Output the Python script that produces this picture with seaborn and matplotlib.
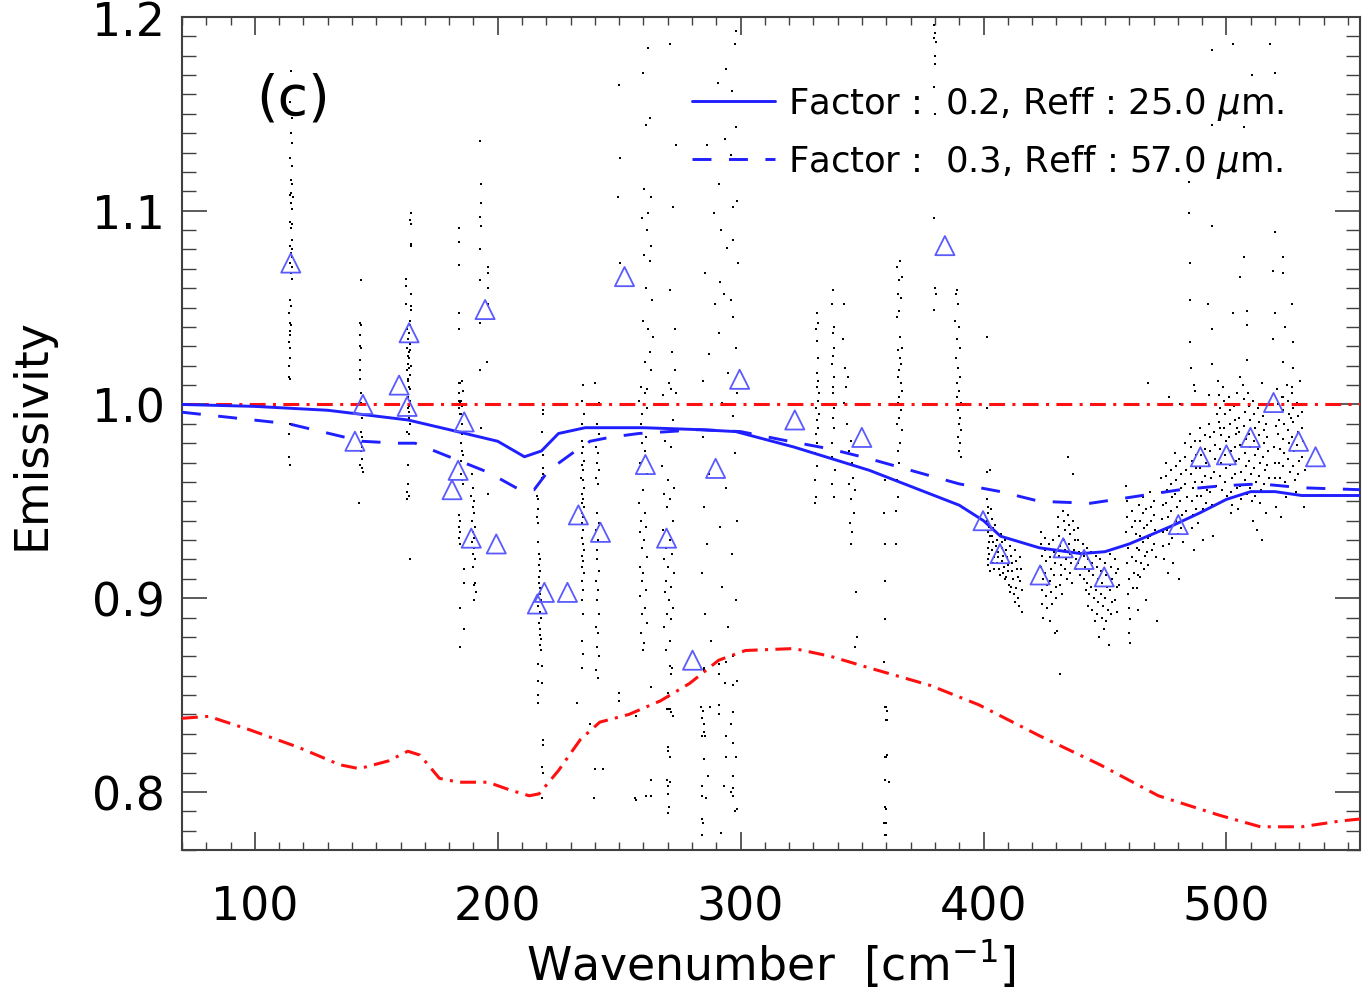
import matplotlib
matplotlib.use("Agg")
import matplotlib.pyplot as plt
from matplotlib.ticker import MultipleLocator
import numpy as np
import pandas as pd
import seaborn as sns

# --- model curves -----------------------------------------------------------
fac02_x = [70, 100, 130, 163, 180, 200, 211, 218, 225, 236, 260, 283, 298, 322,
           353, 390, 400, 407, 423, 440, 450, 460, 477, 489, 500, 510, 520, 531, 555]
fac02_y = [1.000, 0.999, 0.997, 0.992, 0.987, 0.981, 0.973, 0.976, 0.985, 0.988, 0.988,
           0.987, 0.986, 0.978, 0.966, 0.948, 0.940, 0.932, 0.926, 0.923, 0.924, 0.928,
           0.937, 0.944, 0.951, 0.955, 0.955, 0.953, 0.953]

fac03_x = [70, 114, 144, 159, 166, 176, 184, 196, 209, 215, 221, 232, 238, 246, 258,
           283, 300, 320, 337, 353, 370, 390, 407, 423, 444, 460, 481, 498, 514, 531, 555]
fac03_y = [0.996, 0.990, 0.981, 0.980, 0.980, 0.975, 0.971, 0.965, 0.956, 0.956, 0.966,
           0.976, 0.981, 0.983, 0.985, 0.987, 0.986, 0.981, 0.977, 0.972, 0.966, 0.959,
           0.955, 0.950, 0.949, 0.952, 0.956, 0.958, 0.959, 0.957, 0.956]

red_x = [70, 81, 98, 118, 135, 143, 155, 163, 168, 176, 184, 196, 205, 213, 217, 225,
         234, 242, 254, 267, 279, 291, 302, 322, 337, 353, 378, 398, 423, 448, 472,
         497, 514, 531, 547, 555]
red_y = [0.838, 0.839, 0.832, 0.823, 0.814, 0.812, 0.816, 0.821, 0.819, 0.807, 0.805,
         0.805, 0.801, 0.798, 0.799, 0.811, 0.827, 0.836, 0.840, 0.847, 0.856, 0.868,
         0.873, 0.874, 0.870, 0.864, 0.855, 0.845, 0.829, 0.814, 0.798, 0.788, 0.782,
         0.782, 0.785, 0.786]

# --- retrieved emissivity (triangles) ---------------------------------------
tri_x = [114.8, 144.5, 159.4, 163.5, 162.7, 141.2, 186.2, 183.7, 181.2, 189.1, 199.4,
         194.8, 216.3, 219.2, 228.7, 233.2, 242.3, 252.2, 260.8, 269.5, 280.2, 289.7,
         299.6, 322.3, 349.9, 384.1, 399.8, 406.8, 423.3, 432.8, 441.4, 449.7, 480.2,
         489.3, 500.0, 509.9, 519.4, 529.7, 536.7]
tri_y = [1.073, 1.000, 1.010, 1.037, 0.999, 0.981, 0.991, 0.966, 0.956, 0.931, 0.928,
         1.049, 0.897, 0.903, 0.903, 0.943, 0.934, 1.066, 0.969, 0.931, 0.868, 0.967,
         1.013, 0.992, 0.983, 1.082, 0.940, 0.923, 0.912, 0.926, 0.920, 0.911, 0.938,
         0.973, 0.974, 0.983, 1.001, 0.981, 0.973]

# --- individual spectral points (dots) -----------------------------------------
strip_115 = [(115.0, 1.172), (114.6, 1.156), (115.2, 1.148), (114.8, 1.140), (115.4, 1.135),
             (114.5, 1.127), (115.1, 1.123), (114.7, 1.116), (115.3, 1.114), (114.9, 1.109),
             (114.4, 1.108), (115.6, 1.107), (115.0, 1.104), (115.2, 1.101), (114.6, 1.094),
             (115.4, 1.093), (114.9, 1.091), (115.1, 1.085), (114.5, 1.082), (115.5, 1.080),
             (114.8, 1.078), (115.2, 1.076), (114.6, 1.073), (115.4, 1.071), (114.9, 1.068),
             (115.1, 1.065), (114.3, 1.054), (114.7, 1.051), (114.2, 1.047), (114.4, 1.042),
             (114.8, 1.041), (114.3, 1.038), (114.6, 1.036), (114.1, 1.032), (114.5, 1.029),
             (114.3, 1.024), (114.2, 1.020), (114.0, 1.014), (114.4, 1.013), (114.3, 0.998),
             (114.5, 0.990), (113.9, 0.985), (114.2, 0.973), (114.4, 0.969)]

strip_143 = [(143.8, 1.064), (143.2, 1.042), (143.6, 1.041), (143.1, 1.036), (143.4, 1.030),
             (143.7, 1.029), (143.5, 1.023), (143.1, 1.018), (143.3, 1.013), (143.6, 1.006),
             (143.9, 1.001), (144.2, 0.993), (143.9, 0.986), (144.3, 0.983), (143.6, 0.980),
             (144.1, 0.978), (143.8, 0.976), (144.0, 0.972), (143.5, 0.969), (144.2, 0.967),
             (144.4, 0.965), (142.9, 0.949)]

strip_163 = [(164.2, 1.099), (164.0, 1.095), (164.3, 1.093), (164.1, 1.083), (164.4, 1.082),
             (162.4, 1.065), (162.3, 1.061), (164.1, 1.057), (162.4, 1.052), (164.3, 1.051),
             (164.4, 1.049), (163.9, 1.043), (164.0, 1.041), (162.8, 1.039), (163.5, 1.037),
             (163.1, 1.034), (163.7, 1.031), (162.6, 1.029), (163.9, 1.028), (163.3, 1.027),
             (162.9, 1.025), (163.6, 1.024), (163.0, 1.021), (164.2, 1.020), (163.4, 1.019),
             (162.7, 1.018), (163.8, 1.015), (163.2, 1.013), (162.9, 1.012), (163.5, 1.009),
             (164.0, 1.008), (163.1, 1.004), (163.7, 1.002), (163.4, 0.999), (162.9, 0.998),
             (163.6, 0.996), (163.3, 0.993), (163.8, 0.990), (162.6, 0.986), (163.5, 0.985),
             (162.8, 0.980), (163.2, 0.969), (163.1, 0.959), (162.7, 0.955), (163.4, 0.953),
             (162.5, 0.951), (163.8, 0.920)]

strip_185 = [(184.1, 1.091), (184.2, 1.084), (184.0, 1.072), (184.2, 1.047), (184.0, 1.039),
             (183.9, 1.011), (184.3, 1.011), (184.1, 1.006), (184.0, 1.002), (184.4, 1.001),
             (184.2, 0.998), (184.3, 0.995), (185.2, 1.012), (185.5, 1.007), (185.0, 1.002),
             (185.3, 0.999), (184.8, 0.995), (185.1, 0.990), (185.4, 0.985), (184.9, 0.980),
             (185.2, 0.976), (185.6, 0.974), (185.0, 0.971), (184.7, 0.964), (185.3, 0.961),
             (185.5, 0.959), (184.2, 0.943), (184.5, 0.940), (183.9, 0.937), (184.3, 0.934),
             (184.0, 0.931), (184.6, 0.928), (186.1, 0.915), (186.3, 0.908), (184.5, 0.895),
             (186.2, 0.884), (184.4, 0.875)]

strip_190 = [(189.5, 0.964), (190.0, 0.957), (189.2, 0.953), (190.4, 0.950), (189.8, 0.947),
             (190.2, 0.944), (189.6, 0.940), (190.5, 0.937), (189.9, 0.934), (190.1, 0.931),
             (189.4, 0.929), (190.3, 0.926), (189.7, 0.923), (190.6, 0.920), (190.0, 0.916),
             (190.8, 0.908), (190.2, 0.907), (190.9, 0.903), (190.4, 0.899)]

strip_195 = [(192.5, 1.136), (193.0, 1.114), (193.2, 1.104), (192.8, 1.097), (193.1, 1.092),
             (192.9, 1.080), (192.6, 1.064), (192.7, 1.042), (195.8, 1.071), (196.0, 1.068),
             (195.9, 1.060), (195.8, 1.052), (195.7, 1.022), (192.8, 1.018), (193.0, 0.988),
             (196.2, 0.954)]

strip_218 = [(218.5, 0.997), (218.7, 0.995), (218.4, 0.986), (218.6, 0.974), (218.8, 0.967),
             (218.5, 0.964), (218.3, 0.962), (216.2, 0.953), (216.4, 0.951), (216.5, 0.946),
             (216.3, 0.942), (216.4, 0.939), (216.5, 0.929), (217.0, 0.923), (217.4, 0.920),
             (216.8, 0.917), (217.6, 0.914), (217.1, 0.911), (216.9, 0.908), (217.5, 0.905),
             (217.2, 0.902), (217.8, 0.899), (216.7, 0.896), (217.3, 0.893), (217.9, 0.890),
             (217.0, 0.887), (217.6, 0.884), (217.3, 0.881), (217.8, 0.879), (217.4, 0.876),
             (217.9, 0.873), (216.6, 0.866), (218.4, 0.865), (216.4, 0.857), (218.3, 0.856),
             (216.5, 0.850), (216.6, 0.846), (218.5, 0.827), (218.5, 0.824), (218.4, 0.813),
             (218.5, 0.810), (218.4, 0.797)]

strip_235_x = [235.1, 234.6, 235.4, 234.8, 235.7, 234.5, 235.2, 234.9, 235.5, 234.7, 235.3,
               234.4, 235.0, 235.6, 234.8, 235.2, 234.6, 235.4, 234.9, 235.1, 234.5, 235.3,
               234.7, 235.0, 235.5, 234.6, 235.2, 234.9, 235.4, 234.7, 235.1, 234.8, 235.3,
               234.6, 235.0, 234.9]
strip_235_y = [1.010, 1.002, 0.995, 0.990, 0.988, 0.981, 0.978, 0.975, 0.971, 0.969, 0.966,
               0.962, 0.961, 0.957, 0.954, 0.951, 0.949, 0.947, 0.944, 0.942, 0.939, 0.935,
               0.931, 0.928, 0.925, 0.922, 0.919, 0.916, 0.913, 0.909, 0.904, 0.899, 0.892,
               0.878, 0.871, 0.864]

strip_241_x = [240.2, 241.5, 240.8, 241.9, 240.5, 241.2, 240.9, 241.6, 240.4, 241.1, 240.7,
               241.8, 240.3, 241.4, 240.9, 241.0, 241.7, 240.6, 241.3, 240.8, 241.5, 240.4,
               241.2, 240.9, 241.6, 240.5, 241.1, 232.5, 237.8, 240.0, 239.5]
strip_241_y = [1.011, 1.001, 0.990, 0.985, 0.978, 0.975, 0.970, 0.966, 0.962, 0.959, 0.944,
               0.939, 0.935, 0.930, 0.925, 0.920, 0.914, 0.909, 0.904, 0.899, 0.892, 0.885,
               0.882, 0.875, 0.870, 0.863, 0.859, 0.846, 0.835, 0.812, 0.797]

strip_259_x = [259.0, 260.5, 258.2, 261.3, 259.6, 258.8, 261.0, 259.3, 260.8, 258.5, 261.5,
               259.9, 258.3, 260.6, 259.1, 261.2, 258.7, 260.2, 259.4, 261.4, 258.6, 260.0,
               259.2, 261.1, 258.4, 260.7, 259.5, 261.3, 258.9, 260.4, 259.7, 256.5, 261.0]
strip_259_y = [1.009, 1.006, 1.002, 0.998, 0.995, 0.990, 0.983, 0.980, 0.976, 0.970, 0.964,
               0.956, 0.949, 0.944, 0.940, 0.937, 0.934, 0.930, 0.926, 0.921, 0.916, 0.913,
               0.909, 0.904, 0.901, 0.895, 0.892, 0.887, 0.882, 0.877, 0.873, 0.797, 0.798]

upper_262_x = [262.0, 259.8, 262.5, 261.0, 260.3, 263.2, 262.0, 259.5, 261.5, 263.0, 260.2,
               262.6, 261.2, 263.5, 260.0, 261.8, 264.0, 262.8, 260.6, 263.3, 261.4,
               249.8, 250.3, 249.6, 250.5]
upper_262_y = [1.184, 1.171, 1.148, 1.144, 1.111, 1.107, 1.099, 1.096, 1.090, 1.082, 1.077,
               1.074, 1.060, 1.054, 1.043, 1.039, 1.035, 1.027, 1.022, 1.018, 1.008,
               1.165, 1.127, 1.107, 1.073]

strip_270_x = [270.5, 268.2, 272.0, 269.0, 271.3, 267.8, 270.0, 272.4, 268.6, 271.0, 269.5,
               272.2, 268.0, 270.8, 269.3, 271.8, 268.4, 270.3, 272.6, 269.1, 271.5, 268.7,
               270.6, 272.1, 269.7, 271.2, 268.3, 270.9, 269.4, 271.6, 270.2, 269.8, 271.4,
               270.1, 269.6, 270.4]
strip_270_y = [1.011, 1.005, 0.992, 0.981, 0.978, 0.968, 0.961, 0.957, 0.954, 0.951, 0.947,
               0.940, 0.935, 0.930, 0.926, 0.923, 0.920, 0.916, 0.913, 0.909, 0.906, 0.903,
               0.899, 0.895, 0.892, 0.889, 0.885, 0.878, 0.873, 0.864, 0.851, 0.843, 0.841,
               0.823, 0.806, 0.792]

upper_272_x = [271.0, 273.5, 272.2, 270.8, 273.0, 271.6, 272.8, 271.2, 273.6]
upper_272_y = [1.186, 1.134, 1.102, 1.059, 1.039, 1.027, 1.018, 1.008, 1.006]

strip_292_x = [298.3, 297.5, 294.0, 290.8, 296.5, 297.9, 293.5, 286.0, 296.0, 298.8, 291.0,
               298.5, 296.8, 289.0, 292.0, 297.0, 294.5, 298.8, 285.5, 291.5, 293.0, 296.0,
               289.5, 297.0, 291.0, 298.0, 287.0, 295.0, 284.5, 298.6, 292.5, 297.0,
               284.5, 297.5, 287.0, 294.0, 285.0, 298.5, 291.5, 286.0, 296.5, 284.0, 292.5,
               298.0, 285.5, 295.0, 288.0, 297.0, 284.8, 293.5, 287.5, 296.0, 285.2, 298.2,
               286.5, 293.0, 285.8, 297.5, 284.6, 292.0]
strip_292_y = [1.193, 1.186, 1.173, 1.166, 1.162, 1.143, 1.137, 1.134, 1.129, 1.126, 1.114,
               1.105, 1.102, 1.099, 1.090, 1.085, 1.081, 1.073, 1.068, 1.063, 1.057, 1.054,
               1.052, 1.045, 1.037, 1.029, 1.026, 1.016, 1.012, 1.006, 1.001, 0.994,
               0.983, 0.975, 0.964, 0.957, 0.947, 0.940, 0.937, 0.928, 0.923, 0.913, 0.906,
               0.899, 0.892, 0.885, 0.878, 0.870, 0.863, 0.856, 0.844, 0.835, 0.829, 0.818,
               0.808, 0.803, 0.797, 0.790, 0.784, 0.779]

low_sparse = [(250.0, 0.851), (250.0, 0.847), (257.0, 0.839), (263.0, 0.854), (263.3, 0.806),
              (263.3, 0.798), (257.0, 0.796), (270.0, 0.849), (270.0, 0.843), (271.0, 0.843),
              (272.0, 0.839), (270.0, 0.821), (271.0, 0.818), (271.0, 0.805), (270.0, 0.803),
              (270.0, 0.799), (270.0, 0.789), (243.3, 0.812), (283.5, 0.844), (284.4, 0.842),
              (284.0, 0.838), (285.0, 0.835), (284.0, 0.829), (285.0, 0.831), (285.0, 0.817),
              (284.0, 0.803), (284.0, 0.798), (284.0, 0.786), (284.0, 0.778), (291.3, 0.845),
              (291.3, 0.840), (294.0, 0.829), (294.0, 0.818), (296.0, 0.800), (296.7, 0.841),
              (296.7, 0.825), (296.7, 0.808), (296.7, 0.802), (296.7, 0.798), (298.4, 0.791),
              (296.7, 0.855), (298.6, 0.857), (291.3, 0.861), (285.0, 0.864), (291.0, 0.866),
              (294.0, 0.867), (271.5, 0.861), (271.0, 0.865), (359.8, 0.844), (360.4, 0.842),
              (360.4, 0.837), (359.8, 0.818), (360.4, 0.819), (361.0, 0.805), (359.8, 0.791),
              (359.8, 0.784), (359.8, 0.778)]

strip_332_y = [1.047, 1.042, 1.039, 1.033, 1.024, 1.016, 1.012, 1.009, 1.006, 1.002, 0.998,
               0.995, 0.992, 0.988, 0.985, 0.980, 0.975, 0.968, 0.961, 0.952, 0.949]
strip_332_x = [331.5, 331.8, 331.2, 331.6, 332.0, 331.3, 331.9, 331.4, 332.2, 331.7, 331.1,
               332.1, 331.5, 331.9, 331.2, 331.6, 330.8, 331.4, 330.5, 330.9, 330.6]
strip_338_y = [1.059, 1.052, 1.040, 1.037, 1.029, 1.025, 1.021, 1.014, 1.009, 1.006, 0.998,
               0.993, 0.988, 0.980, 0.973, 0.966, 0.959, 0.952]
strip_338_x = [338.0, 337.8, 338.3, 337.9, 338.4, 338.1, 337.7, 338.5, 338.2, 337.9, 338.6,
               338.0, 338.3, 337.5, 337.8, 338.8, 337.6, 338.4]
strip_345_y = [1.052, 1.034, 1.019, 1.014, 1.009, 1.001, 0.990, 0.981, 0.976, 0.970, 0.962,
               0.959, 0.956, 0.951, 0.944, 0.939, 0.934, 0.928, 0.903, 0.880, 0.875]
strip_345_x = [342.5, 342.3, 342.8, 344.2, 343.5, 342.7, 344.0, 345.5, 344.8, 345.9, 346.3,
               344.6, 347.0, 345.3, 346.6, 344.9, 346.0, 345.6, 347.5, 348.0, 347.2]

strip_359 = [(359.4, 0.961), (359.2, 0.944), (359.5, 0.928), (359.3, 0.909), (359.6, 0.889),
             (359.2, 0.867), (359.5, 0.844), (359.8, 0.837), (359.3, 0.818), (359.6, 0.806),
             (359.4, 0.792), (359.2, 0.784), (359.5, 0.778)]

strip_365_y = [1.074, 1.071, 1.066, 1.064, 1.057, 1.055, 1.048, 1.045, 1.035, 1.029, 1.028,
               1.024, 1.021, 1.018, 1.014, 1.011, 1.007, 1.004, 1.001, 0.997, 0.993, 0.990,
               0.987, 0.980, 0.976, 0.970, 0.961, 0.952, 0.945, 0.928]
strip_365_x = [365.5, 364.2, 366.3, 365.0, 364.6, 366.0, 365.3, 364.4, 365.8, 366.4, 364.8,
               365.6, 366.2, 365.1, 364.7, 365.9, 366.5, 365.4, 364.9, 366.1, 365.2, 364.5,
               366.3, 365.7, 364.6, 365.0, 364.3, 364.9, 364.1, 363.8]

strip_380 = [(379.5, 1.196), (380.2, 1.192), (379.8, 1.189), (380.4, 1.187), (379.9, 1.180),
             (380.1, 1.176), (379.7, 1.164), (380.0, 1.150), (379.6, 1.096), (380.0, 1.060),
             (380.3, 1.057), (379.8, 1.049)]

strip_389_y = [1.059, 1.057, 1.052, 1.043, 1.040, 1.034, 1.029, 1.024, 1.019, 1.014, 1.011,
               1.007, 1.004, 1.001, 0.997, 0.993, 0.990, 0.987, 0.983, 0.980, 0.976, 0.973]
strip_389_x = [389.2, 388.8, 389.5, 388.4, 389.9, 389.0, 390.3, 388.6, 389.7, 390.5, 389.1,
               390.0, 388.9, 390.6, 389.4, 390.2, 389.8, 390.9, 389.3, 390.4, 390.1, 390.7]

band_398_416 = [(401.6, 0.951), (401.8, 0.947), (402.0, 0.944), (401.5, 0.940), (402.3, 0.937),
                (401.9, 0.934), (402.5, 0.932), (402.1, 0.929), (401.7, 0.926), (402.4, 0.923),
                (402.0, 0.920), (401.8, 0.917), (402.6, 0.914), (403.2, 0.946), (403.5, 0.941),
                (403.8, 0.936), (403.4, 0.932), (404.0, 0.929), (403.6, 0.925), (404.2, 0.921),
                (403.9, 0.918), (404.5, 0.915), (404.8, 0.938), (405.1, 0.934), (405.5, 0.930),
                (405.2, 0.927), (405.8, 0.924), (406.1, 0.921), (405.6, 0.918), (406.4, 0.915),
                (406.9, 0.912), (407.2, 0.933), (407.5, 0.929), (407.8, 0.926), (408.1, 0.922),
                (407.6, 0.919), (408.4, 0.916), (408.0, 0.913), (408.7, 0.910), (409.0, 0.930),
                (409.3, 0.925), (409.6, 0.921), (409.9, 0.917), (410.2, 0.914), (409.4, 0.911),
                (410.5, 0.907), (411.0, 0.927), (411.3, 0.922), (411.6, 0.918), (411.9, 0.914),
                (412.2, 0.910), (411.5, 0.906), (412.5, 0.902), (413.1, 0.925), (413.4, 0.919),
                (413.7, 0.915), (414.0, 0.911), (413.3, 0.905), (414.2, 0.900), (414.6, 0.896),
                (415.2, 0.921), (415.5, 0.915), (415.0, 0.909), (415.8, 0.904), (416.0, 0.893),
                (412.8, 0.898), (410.8, 0.903), (401.4, 1.035), (401.4, 0.998), (402.7, 0.966),
                (401.4, 0.965)]

band_423_440 = [(423.5, 0.934), (423.8, 0.928), (424.0, 0.922), (423.6, 0.916), (424.3, 0.910),
                (424.1, 0.904), (423.9, 0.897), (424.5, 0.890), (425.2, 0.931), (425.5, 0.925),
                (425.8, 0.919), (425.4, 0.913), (426.0, 0.907), (425.7, 0.901), (426.3, 0.895),
                (427.0, 0.928), (427.3, 0.921), (427.6, 0.915), (427.2, 0.909), (427.9, 0.903),
                (428.2, 0.897), (427.5, 0.888), (428.8, 0.930), (429.1, 0.924), (429.4, 0.918),
                (429.0, 0.912), (429.7, 0.906), (430.0, 0.900), (430.5, 0.942), (430.8, 0.937),
                (431.1, 0.932), (431.4, 0.927), (431.0, 0.922), (431.7, 0.917), (432.0, 0.912),
                (431.5, 0.907), (432.3, 0.902), (432.8, 0.945), (433.1, 0.940), (433.4, 0.935),
                (433.0, 0.930), (433.7, 0.925), (434.0, 0.920), (433.5, 0.915), (434.3, 0.910),
                (434.9, 0.943), (435.2, 0.938), (435.5, 0.933), (435.1, 0.928), (435.8, 0.923),
                (436.1, 0.918), (435.6, 0.913), (436.4, 0.908), (437.0, 0.940), (437.3, 0.935),
                (437.6, 0.930), (437.2, 0.925), (437.9, 0.920), (438.2, 0.915), (438.8, 0.936),
                (439.1, 0.930), (439.4, 0.924), (439.0, 0.918), (439.7, 0.912), (434.8, 0.973),
                (437.0, 0.964), (429.5, 0.882), (430.1, 0.883), (431.5, 0.861)]

band_441_456 = [(441.0, 0.928), (441.4, 0.922), (441.8, 0.916), (441.2, 0.910), (442.0, 0.904),
                (442.5, 0.926), (442.9, 0.920), (443.3, 0.914), (442.7, 0.908), (443.6, 0.902),
                (443.1, 0.896), (444.2, 0.924), (444.6, 0.918), (445.0, 0.912), (444.4, 0.906),
                (445.3, 0.900), (444.8, 0.894), (445.7, 0.888), (446.2, 0.922), (446.6, 0.916),
                (447.0, 0.910), (446.4, 0.904), (447.3, 0.898), (446.8, 0.892), (448.0, 0.920),
                (448.4, 0.914), (448.8, 0.908), (448.2, 0.902), (449.1, 0.896), (448.6, 0.890),
                (449.5, 0.884), (450.0, 0.918), (450.4, 0.912), (450.8, 0.906), (450.2, 0.900),
                (451.1, 0.894), (450.6, 0.888), (452.0, 0.923), (452.4, 0.916), (452.8, 0.910),
                (452.2, 0.904), (453.1, 0.898), (452.6, 0.892), (454.0, 0.920), (454.4, 0.913),
                (454.8, 0.906), (454.2, 0.899), (455.1, 0.893), (455.5, 0.915), (455.9, 0.907),
                (447.5, 0.880), (451.5, 0.876)]

band_458_472 = [(458.6, 0.958), (458.9, 0.950), (459.2, 0.942), (458.8, 0.934), (459.5, 0.926),
                (459.1, 0.918), (459.7, 0.910), (459.4, 0.902), (460.0, 0.895), (460.3, 0.889),
                (460.0, 0.882), (460.4, 0.877), (461.0, 0.945), (461.3, 0.937), (461.6, 0.929),
                (461.2, 0.921), (461.9, 0.913), (461.5, 0.905), (462.5, 0.940), (462.8, 0.933),
                (463.1, 0.926), (462.7, 0.919), (463.4, 0.912), (463.0, 0.905), (464.0, 0.948),
                (464.3, 0.940), (464.6, 0.932), (464.2, 0.925), (464.9, 0.918), (464.5, 0.911),
                (465.5, 0.952), (465.8, 0.944), (466.1, 0.936), (465.7, 0.929), (466.4, 0.922),
                (466.0, 0.915), (467.0, 0.946), (467.3, 0.938), (467.6, 0.931), (467.2, 0.924),
                (467.9, 0.917), (468.5, 0.955), (468.8, 0.947), (469.1, 0.940), (468.7, 0.932),
                (469.4, 0.925), (470.0, 0.950), (470.3, 0.943), (470.6, 0.935), (470.2, 0.928),
                (470.9, 0.921), (471.3, 0.888), (466.8, 0.899), (463.8, 0.894), (467.8, 1.011)]

band_473_484 = [(473.2, 0.962), (473.5, 0.955), (473.8, 0.948), (473.4, 0.941), (474.1, 0.934),
                (473.7, 0.927), (474.4, 0.920), (475.0, 0.970), (475.3, 0.963), (475.6, 0.956),
                (475.2, 0.949), (475.9, 0.942), (475.5, 0.935), (476.2, 0.928), (477.0, 0.966),
                (477.3, 0.959), (477.6, 0.952), (477.2, 0.945), (477.9, 0.938), (477.5, 0.931),
                (478.8, 0.975), (479.1, 0.968), (479.4, 0.961), (479.0, 0.954), (479.7, 0.947),
                (479.3, 0.940), (480.0, 0.933), (480.8, 0.971), (481.1, 0.964), (481.4, 0.957),
                (481.0, 0.950), (481.7, 0.943), (481.3, 0.936), (482.0, 0.929), (482.8, 0.980),
                (483.1, 0.973), (483.4, 0.966), (483.0, 0.959), (483.7, 0.952), (483.3, 0.945),
                (476.0, 0.913), (478.2, 0.918), (480.3, 0.910), (476.5, 1.004), (481.0, 1.000)]

band_485_496 = [(485.2, 0.985), (485.5, 0.978), (485.8, 0.971), (485.4, 0.964), (486.1, 0.957),
                (485.7, 0.950), (486.4, 0.943), (486.0, 0.936), (487.0, 0.981), (487.3, 0.974),
                (487.6, 0.967), (487.2, 0.960), (487.9, 0.953), (487.5, 0.946), (488.2, 0.939),
                (489.0, 0.988), (489.3, 0.981), (489.6, 0.974), (489.2, 0.967), (489.9, 0.960),
                (489.5, 0.953), (490.2, 0.946), (491.0, 0.984), (491.3, 0.977), (491.6, 0.970),
                (491.2, 0.963), (491.9, 0.956), (491.5, 0.949), (492.8, 0.990), (493.1, 0.983),
                (493.4, 0.976), (493.0, 0.969), (493.7, 0.962), (493.3, 0.955), (494.0, 0.948),
                (494.8, 0.986), (495.1, 0.979), (495.4, 0.972), (495.0, 0.965), (495.7, 0.958),
                (486.6, 0.925), (490.5, 0.930), (494.5, 0.932), (485.1, 1.054), (492.6, 1.052),
                (494.2, 1.039), (485.1, 1.032), (485.3, 1.019), (486.8, 1.010), (487.0, 1.007),
                (492.8, 1.005)]

band_upper = [(494.2, 1.183), (502.9, 1.186), (518.1, 1.186), (510.7, 1.170), (520.2, 1.171),
              (494.2, 1.144), (507.4, 1.143), (484.7, 1.115), (484.7, 1.099), (494.2, 1.092),
              (520.2, 1.089), (484.9, 1.073), (507.4, 1.076), (523.5, 1.076), (505.8, 1.066),
              (519.0, 1.069), (523.5, 1.068), (502.9, 1.047), (508.6, 1.048), (520.2, 1.047),
              (527.2, 1.052), (508.6, 1.041), (524.3, 1.040), (519.0, 1.034), (527.6, 1.032),
              (494.2, 1.021), (505.4, 1.014), (508.6, 1.023), (523.5, 1.022), (527.6, 1.019),
              (514.8, 1.011), (530.5, 1.012), (527.2, 1.009), (500.4, 1.000), (504.5, 1.006),
              (523.5, 1.004), (531.8, 1.000), (496.3, 0.995), (497.5, 0.988), (504.5, 0.988),
              (520.6, 0.989), (526.4, 0.993)]

band_496_506 = [(496.6, 1.012), (497.0, 1.005), (497.3, 0.998), (496.9, 0.991), (497.6, 0.984),
                (497.2, 0.977), (497.9, 0.970), (497.5, 0.963), (498.2, 0.956), (498.8, 1.009),
                (499.1, 1.002), (499.4, 0.995), (499.0, 0.988), (499.7, 0.981), (499.3, 0.974),
                (500.0, 0.967), (499.6, 0.960), (500.3, 0.953), (501.0, 1.004), (501.3, 0.997),
                (501.6, 0.990), (501.2, 0.983), (501.9, 0.976), (501.5, 0.969), (502.2, 0.962),
                (501.8, 0.955), (502.5, 0.948), (503.2, 0.999), (503.5, 0.992), (503.8, 0.985),
                (503.4, 0.978), (504.1, 0.971), (503.7, 0.964), (504.4, 0.957), (505.0, 0.993),
                (505.3, 0.986), (505.6, 0.979), (505.2, 0.972), (505.9, 0.965), (505.5, 0.958),
                (506.0, 0.951), (502.0, 0.944), (504.8, 0.946)]

band_507_518 = [(507.0, 1.010), (507.3, 1.003), (507.6, 0.996), (507.2, 0.989), (507.9, 0.982),
                (507.5, 0.975), (508.2, 0.968), (507.8, 0.961), (508.5, 0.954), (509.0, 1.006),
                (509.3, 0.999), (509.6, 0.992), (509.2, 0.985), (509.9, 0.978), (509.5, 0.971),
                (510.2, 0.964), (509.8, 0.957), (510.5, 0.950), (511.0, 1.002), (511.3, 0.995),
                (511.6, 0.988), (511.2, 0.981), (511.9, 0.974), (511.5, 0.967), (512.2, 0.960),
                (511.8, 0.953), (513.0, 0.998), (513.3, 0.991), (513.6, 0.984), (513.2, 0.977),
                (513.9, 0.970), (513.5, 0.963), (514.2, 0.956), (513.8, 0.949), (515.0, 0.994),
                (515.3, 0.987), (515.6, 0.980), (515.2, 0.973), (515.9, 0.966), (515.5, 0.959),
                (516.5, 0.990), (516.8, 0.983), (517.1, 0.976), (516.7, 0.969), (517.4, 0.962),
                (510.8, 0.940), (512.6, 0.935), (514.6, 0.930), (516.2, 0.944)]

band_519_533 = [(519.5, 0.978), (519.8, 0.970), (520.1, 0.962), (519.7, 0.955), (520.4, 0.947),
                (521.0, 1.008), (521.3, 1.000), (521.6, 0.992), (521.2, 0.985), (521.9, 0.977),
                (521.5, 0.970), (522.2, 0.962), (523.0, 1.004), (523.3, 0.997), (523.6, 0.990),
                (523.2, 0.982), (523.9, 0.975), (523.5, 0.968), (524.2, 0.960), (525.0, 1.010),
                (525.3, 1.002), (525.6, 0.995), (525.2, 0.987), (525.9, 0.980), (525.5, 0.972),
                (526.2, 0.965), (527.0, 1.006), (527.3, 0.998), (527.6, 0.991), (527.2, 0.983),
                (527.9, 0.976), (527.5, 0.968), (528.2, 0.961), (529.0, 1.001), (529.3, 0.994),
                (529.6, 0.986), (529.2, 0.979), (529.9, 0.971), (529.5, 0.964), (531.0, 0.996),
                (531.3, 0.988), (531.6, 0.981), (531.2, 0.973), (532.5, 0.966), (524.6, 0.952),
                (528.7, 0.955), (532.0, 0.947), (522.5, 0.942)]

paired = [
    (strip_235_x, strip_235_y), (strip_241_x, strip_241_y), (strip_259_x, strip_259_y),
    (upper_262_x, upper_262_y), (strip_270_x, strip_270_y), (upper_272_x, upper_272_y),
    (strip_292_x, strip_292_y), (strip_332_x, strip_332_y), (strip_338_x, strip_338_y),
    (strip_345_x, strip_345_y), (strip_365_x, strip_365_y), (strip_389_x, strip_389_y),
]
tuples = (strip_115 + strip_143 + strip_163 + strip_185 + strip_190 + strip_195 + strip_218
          + low_sparse + strip_359 + strip_380 + band_398_416 + band_423_440 + band_441_456
          + band_458_472 + band_473_484 + band_485_496 + band_upper + band_496_506
          + band_507_518 + band_519_533)
for xs, ys in paired:
    tuples += list(zip(xs, ys))
dots = pd.DataFrame(tuples, columns=["wavenumber", "emissivity"])

# --- figure -----------------------------------------------------------------
sns.set_style("ticks")
plt.rcParams["font.family"] = ["DejaVu Sans"]
plt.rcParams["mathtext.fontset"] = "dejavusans"
plt.rcParams["text.color"] = "black"
plt.rcParams["xtick.labelcolor"] = "black"
plt.rcParams["ytick.labelcolor"] = "black"
plt.rcParams["axes.labelcolor"] = "black"

BLUE = "#1f1fff"
TRI = "#5a5aff"
RED = "#ff1010"
AX = "#404040"

fig = plt.figure(figsize=(13.63, 9.95), dpi=100)
ax = fig.add_axes([0.1335, 0.1447, 0.8643, 0.8372])

sns.scatterplot(data=dots, x="wavenumber", y="emissivity", ax=ax, color="black",
                s=4.5, marker="s", linewidth=0, legend=False, zorder=2)

ax.axhline(1.0, color=RED, lw=2.2, ls=(0, (5.2, 2.4, 1.0, 2.4)), zorder=3)
sns.lineplot(x=red_x, y=red_y, ax=ax, color=RED, lw=2.2, estimator=None,
             linestyle=(0, (5.2, 2.4, 1.0, 2.4)), zorder=3)
sns.lineplot(x=fac02_x, y=fac02_y, ax=ax, color=BLUE, lw=2.1, estimator=None,
             label=r"Factor :  0.2, Reff : 25.0 $\mu$m.", zorder=4)
sns.lineplot(x=fac03_x, y=fac03_y, ax=ax, color=BLUE, lw=2.1, estimator=None,
             linestyle=(0, (6.5, 6.0)), label=r"Factor :  0.3, Reff : 57.0 $\mu$m.", zorder=4)

sns.scatterplot(x=tri_x, y=tri_y, ax=ax, marker="^", s=190, facecolors="none",
                edgecolor=TRI, linewidth=1.3, legend=False, zorder=5)
ax.collections[-1].set_facecolor("none")

ax.set_xlim(70, 555)
ax.set_ylim(0.77, 1.2)
ax.set_xticks([100, 200, 300, 400, 500])
ax.set_yticks([0.8, 0.9, 1.0, 1.1, 1.2])
ax.set_yticklabels(["0.8", "0.9", "1.0", "1.1", "1.2"])
ax.xaxis.set_minor_locator(MultipleLocator(10))
ax.yaxis.set_minor_locator(MultipleLocator(0.01))

ax.tick_params(axis="x", which="major", direction="in", length=13, width=1.2,
               top=True, labelsize=33, pad=25, color=AX, labelcolor="black")
ax.tick_params(axis="x", which="minor", direction="in", length=6, width=1.0, top=True, color=AX)
ax.tick_params(axis="y", which="major", direction="in", length=18, width=1.2,
               right=True, labelsize=33, pad=12, color=AX, labelcolor="black")
ax.tick_params(axis="y", which="minor", direction="in", length=10, width=1.0, right=True, color=AX)
for sp in ax.spines.values():
    sp.set_color(AX)
    sp.set_linewidth(1.5)

ax.set_xlabel(r"Wavenumber  [cm$^{-1}$]", fontsize=33, color="black")
ax.set_ylabel("Emissivity", fontsize=33, color="black")
ax.xaxis.set_label_coords(0.5, -0.105)
ax.yaxis.set_label_coords(-0.108, 0.5)

ax.text(0.094, 0.902, "(c)", transform=ax.transAxes, fontsize=40,
        ha="center", va="center", color="black")

leg = ax.legend(loc="upper left", bbox_to_anchor=(0.433, 0.919), frameon=False, fontsize=25.5,
                handlelength=2.35, handletextpad=0.35, labelspacing=0.55, borderpad=0,
                borderaxespad=0)
for t in leg.get_texts():
    t.set_color("black")

fig.savefig("out.png", dpi=100)
